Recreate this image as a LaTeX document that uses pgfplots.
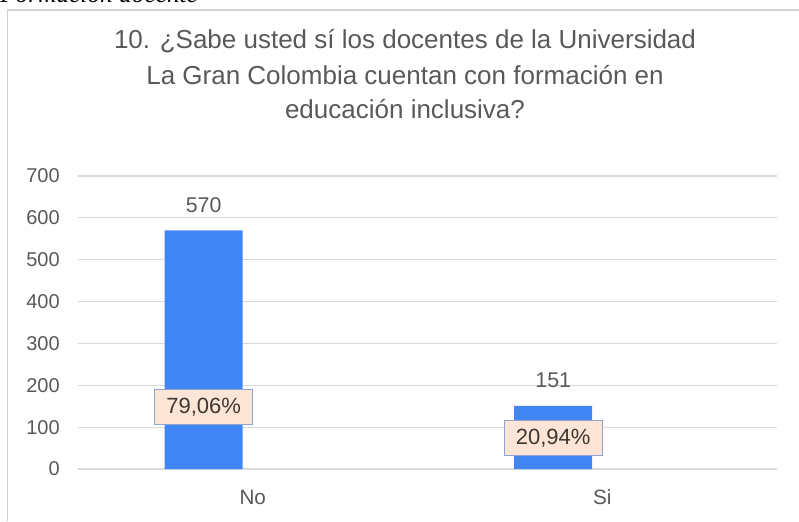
\documentclass[border=0pt]{standalone}
\usepackage{fontspec}
\setmainfont{Liberation Sans}
\newfontfamily\captionserif{Liberation Serif}
\usepackage{pgfplots}
\pgfplotsset{compat=1.18}

\definecolor{barblue}{RGB}{66,133,244}
\definecolor{txtgray}{RGB}{89,89,89}
\definecolor{gridgray}{RGB}{217,217,217}
\definecolor{framegray}{RGB}{210,210,210}
\definecolor{boxfill}{RGB}{252,228,214}
\definecolor{boxline}{RGB}{143,163,205}
\definecolor{boxtext}{RGB}{64,56,50}

\begin{document}
\begin{tikzpicture}
% page = 799x521 px, 1px = 0.75pt
\useasboundingbox (0,0) rectangle (599.25pt,390.75pt);

% frame of the chart (bottom and right are cut off)
\draw[framegray, line width=1.3pt] (5.6pt,0) -- (5.6pt,383.25pt) -- (600pt,383.25pt);

% caption of the document, mostly outside the page
\node[anchor=base west, inner sep=0pt, font=\captionserif\itshape\fontsize{19}{22}\selectfont]
  at (0pt,388.5pt) {Formación docente};

% title
\begin{scope}[every node/.style={anchor=base, inner sep=0pt, text=txtgray,
    font=\fontsize{19.5}{24}\selectfont}]
\node at (303.75pt,354pt) {10. ¿Sabe usted sí los docentes de la Universidad};
\node at (303.75pt,327pt) {La Gran Colombia cuentan con formación en};
\node at (303.75pt,302pt) {educación inclusiva?};
\end{scope}

\begin{axis}[
    at={(58.5pt,39pt)}, anchor=south west,
    scale only axis,
    width=524.25pt, height=219.75pt,
    xmin=-0.5, xmax=1.5,
    ymin=0, ymax=700,
    ytick={0,100,...,700},
    xtick={0,1},
    xticklabels={No,Si},
    axis line style={draw=none},
    major tick length=0pt,
    ymajorgrids,
    grid style={gridgray, line width=0.9pt},
    tick label style={text=txtgray, inner sep=0pt},
    yticklabel style={font=\fontsize{15}{18}\selectfont, anchor=east, xshift=-13.5pt},
    xticklabel style={font=\fontsize{15.5}{18}\selectfont, anchor=north, yshift=-15.5pt},
    /pgf/number format/assume math mode=true,
    clip=false,
]
% counts (bars sit left of the category centre)
\addplot[ybar, fill=barblue, draw=none, bar width=0.2232, bar shift=0,
    nodes near coords,
    every node near coord/.append style={anchor=base, inner sep=0pt, yshift=13.5pt,
        text=txtgray, font=\fontsize{16}{19}\selectfont}]
  coordinates {(-0.1404,570) (0.8596,151)};
% percentage labels
\addplot[draw=none, mark=none, nodes near coords, point meta=explicit symbolic,
    every node near coord/.append style={anchor=center, draw=boxline, fill=boxfill,
        line width=0.8pt, inner sep=0pt, minimum width=73.5pt, minimum height=26pt,
        text=boxtext, font=\fontsize{16.5}{19}\selectfont}]
  coordinates {(-0.1404,148) [79,06\%] (0.8596,74) [20,94\%]};
\end{axis}
\end{tikzpicture}
\end{document}
